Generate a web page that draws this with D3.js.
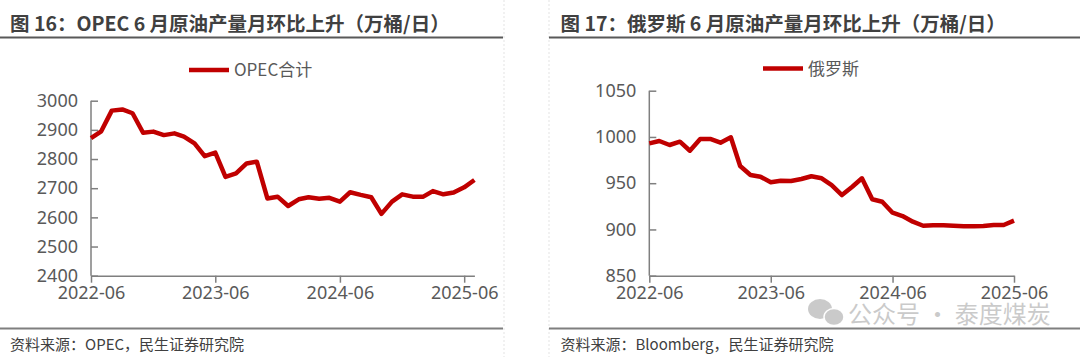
<!DOCTYPE html>
<html>
<head>
<meta charset="utf-8">
<script src="https://cdn.jsdelivr.net/npm/d3@7"></script>
<style>
  html, body { margin: 0; padding: 0; background: #fff; }
  svg { display: block; font-family: "Noto Sans CJK SC", "Noto Sans", sans-serif; }
</style>
</head>
<body>
<svg id="chart" width="1080" height="357"></svg>
<script>
// ---------- data ----------
const opecMonths = ["2022-06","2022-07","2022-08","2022-09","2022-10","2022-11","2022-12",
  "2023-01","2023-02","2023-03","2023-04","2023-05","2023-06","2023-07","2023-08","2023-09",
  "2023-10","2023-11","2023-12","2024-01","2024-02","2024-03","2024-04","2024-05","2024-06",
  "2024-07","2024-08","2024-09","2024-10","2024-11","2024-12","2025-01","2025-02","2025-03",
  "2025-04","2025-05","2025-06","2025-07"];
const opecValues = [2872, 2895, 2966, 2970, 2957, 2890, 2894, 2882, 2888, 2877, 2854, 2810,
  2822, 2739, 2751, 2785, 2791, 2665, 2671, 2639, 2662, 2669, 2664, 2667, 2654, 2686, 2677,
  2669, 2612, 2654, 2679, 2671, 2671, 2690, 2679, 2685, 2703, 2728];

const russiaMonths = opecMonths.slice(0, 37);
const russiaValues = [993, 995.6, 991.3, 994.9, 985.1, 997.8, 997.8, 993.8, 999.6, 968.6,
  958.9, 957, 951, 952.7, 952.3, 954.5, 957.5, 955.3, 948, 937.2, 946.2, 955.3, 932.6, 930,
  918.1, 914.5, 908.4, 904, 904.5, 904.5, 904, 903.4, 903.4, 903.8, 904.8, 904.8, 909.5];

const xTickLabels = ["2022-06", "2023-06", "2024-06", "2025-06"];
const opecYTicks = [2400, 2500, 2600, 2700, 2800, 2900, 3000];
const russiaYTicks = [850, 900, 950, 1000, 1050];

const titles = ["图 16：OPEC 6 月原油产量月环比上升（万桶/日）", "图 17：俄罗斯 6 月原油产量月环比上升（万桶/日）"];
const sources = ["资料来源：OPEC，民生证券研究院", "资料来源：Bloomberg，民生证券研究院"];
const legendNames = ["OPEC合计", "俄罗斯"];

// ---------- drawing ----------
const svg = d3.select("#chart");
const parse = d3.timeParse("%Y-%m");
const RED = "#C00000";
const AXIS = "#7f7f7f";
const TEXT = "#595959";

// separators
[504, 549].forEach(x => svg.append("line").attr("x1", x).attr("x2", x).attr("y1", 0).attr("y2", 357)
  .attr("stroke", "#e3e3e3").attr("stroke-width", 1).attr("stroke-dasharray", "2,2"));

function panel(cfg) {
  const g = svg.append("g");
  // title
  g.append("text").attr("x", cfg.titleX).attr("y", 31).text(cfg.title)
    .attr("font-size", 19.5).attr("font-weight", "bold").attr("fill", "#404040");
  g.append("line").attr("x1", cfg.panelX0).attr("x2", cfg.panelX1).attr("y1", 37.5).attr("y2", 37.5)
    .attr("stroke", "#595959").attr("stroke-width", 2);
  // footer
  g.append("line").attr("x1", cfg.panelX0).attr("x2", cfg.panelX1).attr("y1", 328.5).attr("y2", 328.5)
    .attr("stroke", "#7f7f7f").attr("stroke-width", 2);
  g.append("text").attr("x", cfg.titleX).attr("y", 350).text(cfg.source)
    .attr("font-size", 15).attr("fill", "#404040");

  const dates = cfg.months.map(parse);
  const x = d3.scaleTime().domain([dates[0], dates[dates.length - 1]]).range([cfg.x0, cfg.x1]);
  const y = d3.scaleLinear().domain(cfg.yDomain).range([275.7, cfg.yTop]);

  // y axis
  const yAxis = g.append("g").attr("transform", `translate(${cfg.x0},0)`)
    .call(d3.axisRight(y).tickValues(cfg.yTicks).tickSize(7).tickFormat(d3.format("d")));
  yAxis.select(".domain").attr("stroke", AXIS).attr("stroke-width", 1.5).attr("d", `M0,${y(cfg.yDomain[1])}V${y(cfg.yDomain[0])}`);
  yAxis.selectAll(".tick line").attr("stroke", AXIS).attr("stroke-width", 1.5);
  yAxis.selectAll(".tick text").attr("x", -13).attr("text-anchor", "end")
    .attr("font-size", 18).attr("fill", TEXT).attr("font-family", "Noto Sans, sans-serif");

  // x axis
  const tickDates = xTickLabels.map(parse);
  const xAxis = g.append("g").attr("transform", "translate(0,275.7)")
    .call(d3.axisBottom(x).tickValues(tickDates).tickSize(7).tickSizeOuter(0).tickFormat(d3.timeFormat("%Y-%m")));
  xAxis.select(".domain").attr("stroke", AXIS).attr("stroke-width", 1.5);
  xAxis.selectAll(".tick line").attr("stroke", AXIS).attr("stroke-width", 1.5);
  xAxis.selectAll(".tick text").attr("y", 11).attr("dy", "0.71em")
    .attr("font-size", 18).attr("fill", TEXT).attr("font-family", "Noto Sans, sans-serif");
  svg.selectAll(".tick text").attr("font-family", "Noto Sans, sans-serif");

  // line
  const line = d3.line().x((d, i) => x(dates[i])).y(d => y(d));
  g.append("path").datum(cfg.values).attr("d", line).attr("fill", "none")
    .attr("stroke", RED).attr("stroke-width", 4.5).attr("stroke-linejoin", "round");

  // legend
  g.append("line").attr("x1", cfg.legX).attr("x2", cfg.legX + 40).attr("y1", cfg.legY).attr("y2", cfg.legY)
    .attr("stroke", RED).attr("stroke-width", 4.5);
  g.append("text").attr("x", cfg.legX + 45).attr("y", cfg.legY + 6).text(cfg.legend)
    .attr("font-size", 17).attr("fill", TEXT);
}

panel({ title: titles[0], source: sources[0], legend: legendNames[0], titleX: 10, panelX0: 0, panelX1: 503,
  months: opecMonths, values: opecValues, x0: 91, x1: 474.4, yDomain: [2400, 3000], yTop: 100.7,
  yTicks: opecYTicks, legX: 189, legY: 70 });
panel({ title: titles[1], source: sources[1], legend: legendNames[1], titleX: 560.5, panelX0: 549, panelX1: 1080,
  months: russiaMonths, values: russiaValues, x0: 649.3, x1: 1014, yDomain: [850, 1050], yTop: 90.7,
  yTicks: russiaYTicks, legX: 763, legY: 68.5 });

// watermark
const wm = svg.append("g").attr("opacity", 0.45);
wm.append("ellipse").attr("cx", 820).attr("cy", 309).attr("rx", 12).attr("ry", 10).attr("fill", "#8c8c8c");
wm.append("ellipse").attr("cx", 834).attr("cy", 317).attr("rx", 10).attr("ry", 8.5).attr("fill", "#8c8c8c").attr("stroke", "#fff").attr("stroke-width", 1.5);
wm.append("text").attr("x", 848).attr("y", 323).text("公众号 · 泰度煤炭")
  .attr("font-size", 24).attr("fill", "#8c8c8c");
</script>
</body>
</html>
